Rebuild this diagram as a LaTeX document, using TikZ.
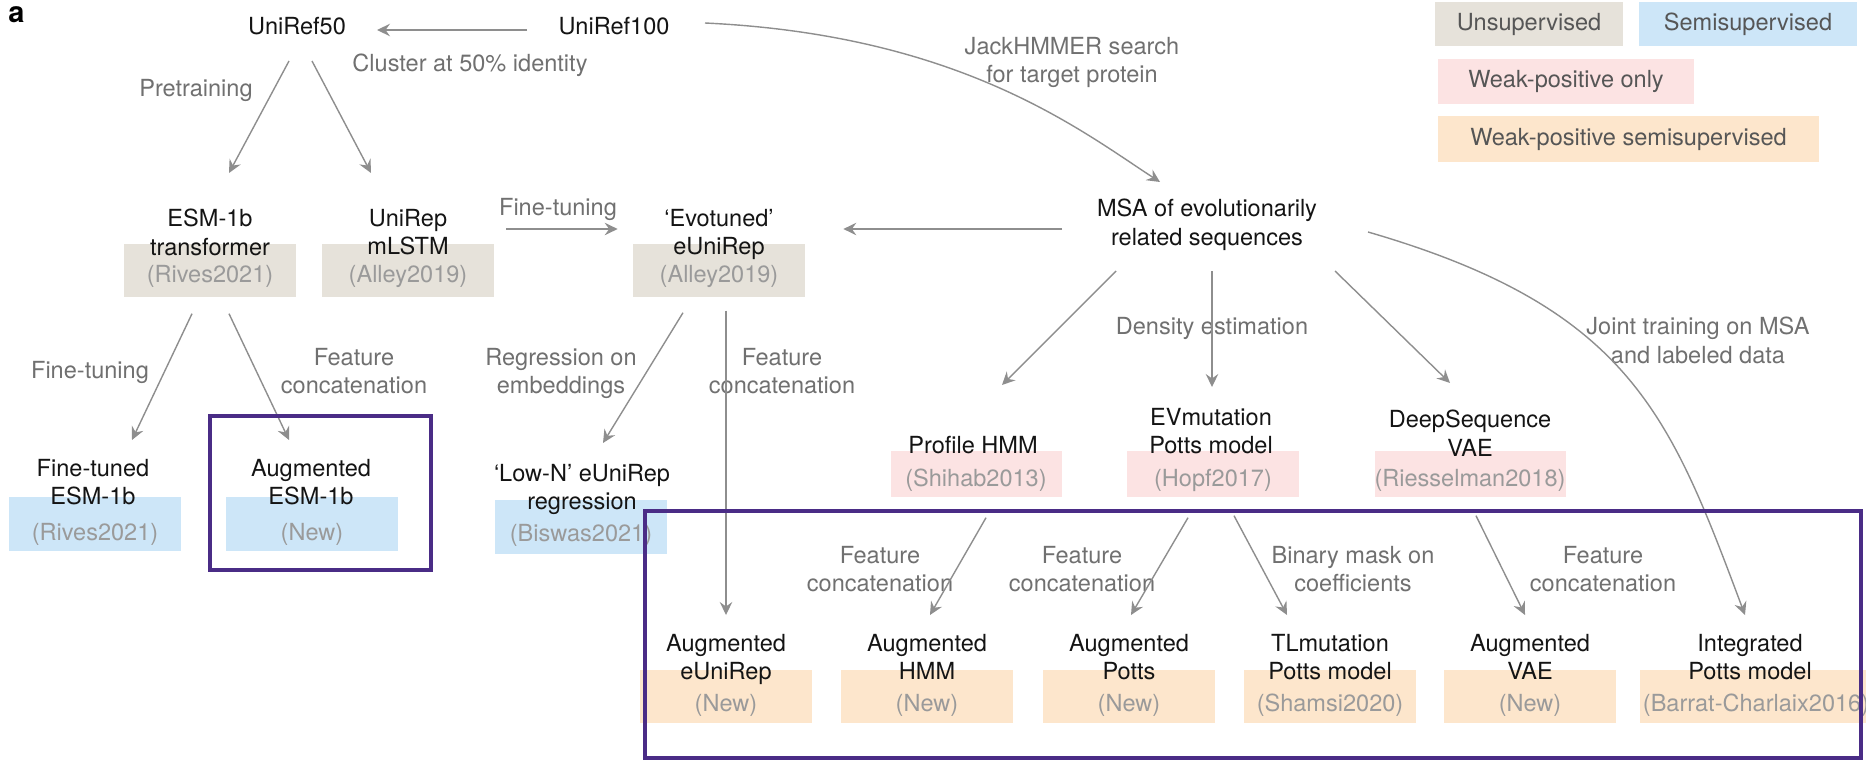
\documentclass[tikz,border=0pt]{standalone}
\usepackage{fontspec}
\setmainfont{TeX Gyre Heros}
\usetikzlibrary{arrows.meta,calc}
\newlength\pxu
\setlength\pxu{0.02cm}
\newcommand\dfont{\fontsize{13.4}{16.2}\selectfont}
\definecolor{cUns}{HTML}{E6E2DA}
\definecolor{cSemi}{HTML}{CDE6F8}
\definecolor{cWeak}{HTML}{FCE3E3}
\definecolor{cWsemi}{HTML}{FDE6CC}
\definecolor{hlpurple}{HTML}{4A2C86}
\definecolor{linegray}{HTML}{8E8E8E}
\definecolor{lblgray}{HTML}{707070}
\definecolor{citegray}{HTML}{9A9A9A}
\definecolor{leggray}{HTML}{565656}
\definecolor{ttlblack}{HTML}{141414}
\begin{document}
\begin{tikzpicture}[x=0.02cm, y=-0.02cm,
  ttl/.style={font=\dfont, text=ttlblack, inner sep=0, align=center, anchor=north},
  lbl/.style={font=\dfont, text=lblgray, inner sep=0, align=center, anchor=north},
  cite/.style={font=\dfont, text=citegray, inner sep=0, anchor=base},
  mbox/.style={rectangle, inner sep=0, anchor=north, draw=none},
  legbox/.style={rectangle, inner sep=0, draw=none, font=\dfont, text=leggray},
  arr/.style={draw=linegray, line width=0.8pt, -{Stealth[length=0.26cm, width=0.25cm, inset=0.09cm]}},
  hl/.style={rectangle, draw=hlpurple, line width=2.6pt, inner sep=0}]
\useasboundingbox (0,0) rectangle (1866,764);

% panel letter
\node[font=\fontsize{16.5}{18}\selectfont\bfseries, inner sep=0, anchor=base west] (panel) at (8,22) {a};

% legend
\node[legbox, fill=cUns, minimum width=188\pxu, minimum height=44\pxu] (lu) at (1529,24) {Unsupervised};
\node[legbox, fill=cSemi, minimum width=218\pxu, minimum height=44\pxu] (ls) at (1748,24) {Semisupervised};
\node[legbox, fill=cWeak, minimum width=256\pxu, minimum height=45\pxu] (lw) at (1566,81.5) {Weak-positive only};
\node[legbox, fill=cWsemi, minimum width=381\pxu, minimum height=46\pxu] (lws) at (1628.5,139) {Weak-positive semisupervised};

% sequence databases
\node[ttl, anchor=base] (u50) at (297,34) {UniRef50};
\node[ttl, anchor=base] (u100) at (614,34) {UniRef100};
\node[ttl] (msa) at (1207,199) {MSA of evolutionarily\\related sequences};

% unsupervised models
\node[mbox, fill=cUns, minimum width=172\pxu, minimum height=53\pxu] (esm) at (210,244) {};
\node[ttl] (esmt) at (210,209) {ESM-1b\\transformer};
\node[cite] (esmc) at (210,282) {(Rives2021)};
\node[mbox, fill=cUns, minimum width=172\pxu, minimum height=53\pxu] (unirep) at (408,244) {};
\node[ttl] (unirept) at (408,209) {UniRep\\mLSTM};
\node[cite] (unirepc) at (408,282) {(Alley2019)};
\node[mbox, fill=cUns, minimum width=172\pxu, minimum height=53\pxu] (evo) at (719,244) {};
\node[ttl] (evot) at (719,209) {‘Evotuned’\\eUniRep};
\node[cite] (evoc) at (719,282) {(Alley2019)};

% semisupervised models
\node[mbox, fill=cSemi, minimum width=172\pxu, minimum height=54\pxu] (ft) at (95,497) {};
\node[ttl] (ftt) at (93,459) {Fine-tuned\\ESM-1b};
\node[cite] (ftc) at (95,540) {(Rives2021)};
\node[mbox, fill=cSemi, minimum width=172\pxu, minimum height=54\pxu] (aug) at (312,497) {};
\node[ttl] (augt) at (311,459) {Augmented\\ESM-1b};
\node[cite] (augc) at (312,540) {(New)};
\node[mbox, fill=cSemi, minimum width=172\pxu, minimum height=54\pxu] (lown) at (581,500) {};
\node[ttl] (lownt) at (582,464) {‘Low-N’ eUniRep\\regression};
\node[cite] (lownc) at (581,541) {(Biswas2021)};

% weak-positive only models
\node[mbox, fill=cWeak, minimum width=171\pxu, minimum height=46\pxu] (phmm) at (976,451) {};
\node[ttl] (phmmt) at (973,436) {Profile HMM};
\node[cite] (phmmc) at (976,486) {(Shihab2013)};
\node[mbox, fill=cWeak, minimum width=172\pxu, minimum height=46\pxu] (evm) at (1213,451) {};
\node[ttl] (evmt) at (1211,408) {EVmutation\\Potts model};
\node[cite] (evmc) at (1213,486) {(Hopf2017)};
\node[mbox, fill=cWeak, minimum width=191\pxu, minimum height=46\pxu] (dseq) at (1470,451) {};
\node[ttl] (dseqt) at (1470,410) {DeepSequence\\VAE};
\node[cite] (dseqc) at (1470,486) {(Riesselman2018)};

% weak-positive semisupervised models
\node[mbox, fill=cWsemi, minimum width=172\pxu, minimum height=53\pxu] (aeu) at (726,670) {};
\node[ttl] (aeut) at (726,634) {Augmented\\eUniRep};
\node[cite] (aeuc) at (726,711) {(New)};
\node[mbox, fill=cWsemi, minimum width=172\pxu, minimum height=53\pxu] (ahmm) at (927,670) {};
\node[ttl] (ahmmt) at (927,634) {Augmented\\HMM};
\node[cite] (ahmmc) at (927,711) {(New)};
\node[mbox, fill=cWsemi, minimum width=172\pxu, minimum height=53\pxu] (apotts) at (1129,670) {};
\node[ttl] (apottst) at (1129,634) {Augmented\\Potts};
\node[cite] (apottsc) at (1129,711) {(New)};
\node[mbox, fill=cWsemi, minimum width=172\pxu, minimum height=53\pxu] (tlm) at (1330,670) {};
\node[ttl] (tlmt) at (1330,634) {TLmutation\\Potts model};
\node[cite] (tlmc) at (1330,711) {(Shamsi2020)};
\node[mbox, fill=cWsemi, minimum width=172\pxu, minimum height=53\pxu] (avae) at (1530,670) {};
\node[ttl] (avaet) at (1530,634) {Augmented\\VAE};
\node[cite] (avaec) at (1530,711) {(New)};
\node[mbox, fill=cWsemi, minimum width=226\pxu, minimum height=53\pxu] (ipm) at (1753,670) {};
\node[ttl] (ipmt) at (1750,634) {Integrated\\Potts model};
\node[cite] (ipmc) at (1756,711) {(Barrat-Charlaix2016)};

% edge labels
\node[lbl] (clus) at (470,54) {Cluster at 50\% identity};
\node[lbl] (pre) at (196,79) {Pretraining};
\node[lbl] (ftl1) at (558,198) {Fine-tuning};
\node[lbl] (jack) at (1072,37) {JackHMMER search\\for target protein};
\node[lbl] (ftl2) at (90,361) {Fine-tuning};
\node[lbl] (fc1) at (354,348) {Feature\\concatenation};
\node[lbl] (reg) at (561,348) {Regression on\\embeddings};
\node[lbl] (fc2) at (782,348) {Feature\\concatenation};
\node[lbl] (dens) at (1212,317) {Density estimation};
\node[lbl] (joint) at (1698,317) {Joint training on MSA\\and labeled data};
\node[lbl] (fc3) at (880,546) {Feature\\concatenation};
\node[lbl] (fc4) at (1082,546) {Feature\\concatenation};
\node[lbl] (bin) at (1353,546) {Binary mask on\\coefficients};
\node[lbl] (fc5) at (1603,546) {Feature\\concatenation};

% connectors
\draw[arr] ($(u100.base)+(-87,-4)$) -- ($(u50.base)+(80,-4)$);
\draw[arr] ($(u50.base)+(-8,27)$) -- ($(esm.north)+(19,-71)$);
\draw[arr] ($(u50.base)+(15,27)$) -- ($(unirep.north)+(-37,-71)$);
\draw[arr] ($(unirep.north east)+(12,-15)$) -- ($(evo.north west)+(-15,-15)$);
\draw[arr] ($(u100.base)+(91,-11)$) .. controls ($(u100.base)+(346,1)$) and ($(msa.north)+(-127,-69)$) .. ($(msa.north)+(-47,-17)$);
\draw[arr] ($(msa.north)+(-145,30)$) -- ($(evo.north east)+(38,-15)$);
\draw[arr] ($(msa.north)+(-91,72)$) -- ($(phmm.north)+(26,-66)$);
\draw[arr] ($(msa.north)+(5,72)$) -- ($(evm.north)+(-1,-64)$);
\draw[arr] ($(msa.north)+(128,72)$) -- ($(dseq.north)+(-20,-68)$);
\draw[arr] ($(msa.north)+(161,33)$) .. controls ($(msa.north)+(423,109)$) and ($(ipm.north)+(-83,-255)$) .. ($(ipm.north)+(-8,-55)$);
\draw[arr] ($(esm.south)+(-18,16)$) -- ($(ft.north)+(37,-57)$);
\draw[arr] ($(esm.south)+(19,16)$) -- ($(aug.north)+(-23,-57)$);
\draw[arr] ($(evo.south)+(-36,15)$) -- ($(lown.north)+(22,-57)$);
\draw[arr] ($(evo.south)+(7,13)$) -- ($(aeu.north)+(0,-55)$);
\draw[arr] ($(phmm.south)+(10,20)$) -- ($(ahmm.north)+(3,-55)$);
\draw[arr] ($(evm.south)+(-25,20)$) -- ($(apotts.north)+(2,-55)$);
\draw[arr] ($(evm.south)+(21,18)$) -- ($(tlm.north)+(-43,-55)$);
\draw[arr] ($(dseq.south)+(6,18)$) -- ($(avae.north)+(-5,-55)$);

% highlight frames
\node[hl, minimum width=221\pxu, minimum height=154\pxu] (hl1) at (320.5,493) {};
\node[hl, minimum width=1216\pxu, minimum height=247\pxu] (hl2) at (1253,634.5) {};
\end{tikzpicture}
\end{document}
